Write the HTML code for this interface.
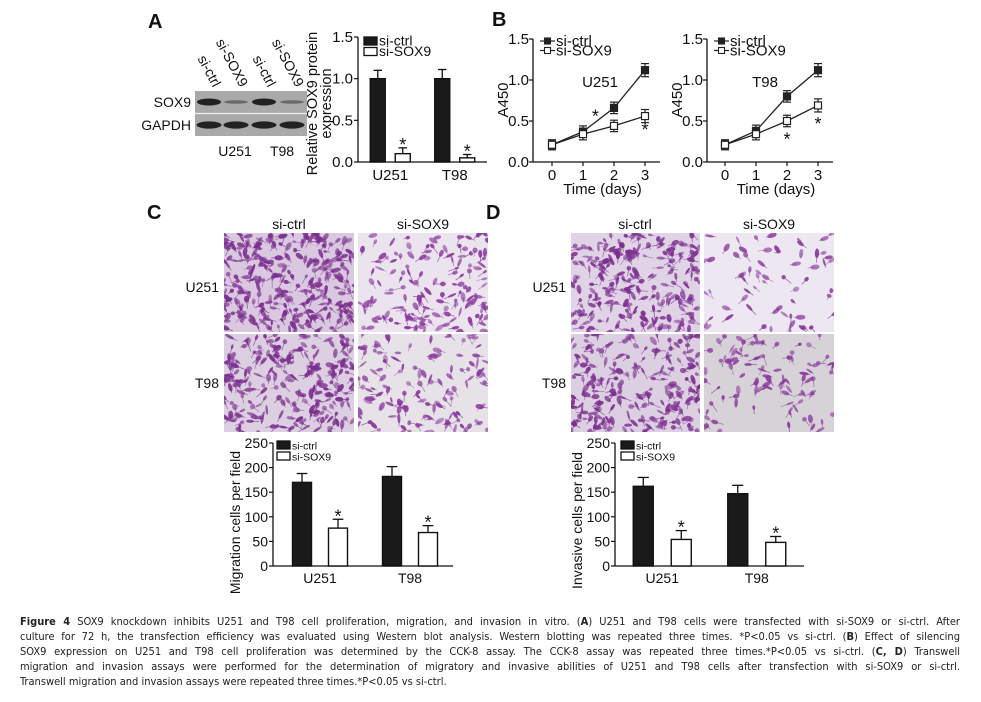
<!DOCTYPE html>
<html><head><meta charset="utf-8">
<style>
html,body{margin:0;padding:0;background:#fff;}
#wrap{position:relative;width:981px;height:702px;overflow:hidden;font-family:"Liberation Sans",sans-serif;}
svg text{font-family:"Liberation Sans",sans-serif;}
#caption{position:absolute;left:20px;top:614px;width:940px;font-family:"DejaVu Sans Condensed","Liberation Sans Narrow","Liberation Sans",sans-serif;font-size:11px;line-height:15px;color:#222;}
#caption div{text-align:justify;text-align-last:justify;white-space:nowrap;overflow:visible;}
#caption div.last{text-align-last:left;}
</style></head><body>
<div id="wrap">
<svg id="fig" width="981" height="702" xmlns="http://www.w3.org/2000/svg"></svg>
<div id="caption">
<div><b>Figure 4</b> SOX9 knockdown inhibits U251 and T98 cell proliferation, migration, and invasion in vitro. (<b>A</b>) U251 and T98 cells were transfected with si-SOX9 or si-ctrl. After</div>
<div>culture for 72 h, the transfection efficiency was evaluated using Western blot analysis. Western blotting was repeated three times. *P&lt;0.05 vs si-ctrl. (<b>B</b>) Effect of silencing</div>
<div>SOX9 expression on U251 and T98 cell proliferation was determined by the CCK-8 assay. The CCK-8 assay was repeated three times.*P&lt;0.05 vs si-ctrl. (<b>C, D</b>) Transwell</div>
<div>migration and invasion assays were performed for the determination of migratory and invasive abilities of U251 and T98 cells after transfection with si-SOX9 or si-ctrl.</div>
<div class="last">Transwell migration and invasion assays were repeated three times.*P&lt;0.05 vs si-ctrl.</div>
</div>
</div>
<script>
// ---- data ----
const barCategories = ["U251", "T98"];
const seriesNames = ["si-ctrl", "si-SOX9"];
const aCtrl = [1.0, 1.0];
const aCtrlErr = [0.1, 0.11];
const aSox = [0.1, 0.05];
const aSoxErr = [0.07, 0.04];
const aTicks = ["0.0", "0.5", "1.0", "1.5"];
const days = [0, 1, 2, 3];
const bU251Ctrl = [0.21, 0.37, 0.66, 1.12];
const bU251Sox = [0.21, 0.34, 0.44, 0.56];
const bT98Ctrl = [0.21, 0.38, 0.80, 1.12];
const bT98Sox = [0.21, 0.34, 0.50, 0.69];
const bErr = [0.06, 0.07, 0.07, 0.08];
const bTicks = ["0.0", "0.5", "1.0", "1.5"];
const cCtrl = [170, 182];
const cCtrlErr = [18, 20];
const cSox = [77, 68];
const cSoxErr = [18, 14];
const dCtrl = [162, 147];
const dCtrlErr = [18, 17];
const dSox = [54, 48];
const dSoxErr = [18, 12];
const cdTicks = ["0", "50", "100", "150", "200", "250"];

const NS = "http://www.w3.org/2000/svg";
const svg = document.getElementById("fig");
function mk(tag, attrs, parent) {
  const e = document.createElementNS(NS, tag);
  for (const k in attrs) e.setAttribute(k, attrs[k]);
  (parent || svg).appendChild(e);
  return e;
}
function txt(str, x, y, size, anchor, parent, extra) {
  const t = mk("text", Object.assign({x: x, y: y, "font-size": size, "text-anchor": anchor || "start", fill: "#111"}, extra || {}), parent);
  t.textContent = str;
  return t;
}

// panel letters
[["A",148,28],["B",492,26],["C",147,219],["D",486,219]].forEach(p => {
  const t = txt(p[0], p[1], p[2], 20, "start", svg, {"font-weight": "bold"});
  
  
});

// ---- Western blot ----
(function () {
  const g = mk("g", {});
  
  
  mk("rect", {x: 195, y: 91, width: 112, height: 45, fill: "#a9a9a9"}, g);
  mk("line", {x1: 195, y1: 113.5, x2: 307, y2: 113.5, stroke: "#eee", "stroke-width": 1.2}, g);
  const lanes = [209, 236, 264, 292];
  const sox = [1, 0.25, 1, 0.15];
  lanes.forEach((x, i) => {
    const b = mk("ellipse", {cx: x, cy: 102, rx: 12, ry: 3.5 * Math.max(sox[i], 0.5), fill: "#1a1a1a", opacity: sox[i] < 0.5 ? 0.45 : 0.95}, g);
    
    
    const c = mk("ellipse", {cx: x, cy: 125, rx: 12.5, ry: 3.6, fill: "#1a1a1a", opacity: 0.95}, g);
    
    
  });
  const labs = ["si-ctrl", "si-SOX9", "si-ctrl", "si-SOX9"];
  lanes.forEach((x, i) => {
    const t = txt(labs[i], x + 4, 88, 14, "end", g, {transform: "rotate(62 " + (x + 4) + " 88)"});
    
    
  });
  txt("SOX9", 191, 107, 14, "end", g);
  txt("GAPDH", 191, 130, 14, "end", g);
  txt("U251", 235, 156, 14, "middle", g);
  txt("T98", 282, 156, 14, "middle", g);
})();

// ---- generic bar chart ----
function barChart(o) {
  const g = mk("g", {});
  
  
  const ys = v => o.y0 - (v / o.max) * (o.y0 - o.y1);
  const band = (o.x1 - o.x0) / barCategories.length;
  const xc = i => o.x0 + (i + 0.5) * band + o.shift;
  mk("line", {x1: o.x0, y1: o.y1, x2: o.x0, y2: o.y0, stroke: "#111", "stroke-width": 1.3}, g);
  mk("line", {x1: o.x0, y1: o.y0, x2: o.x1, y2: o.y0, stroke: "#111", "stroke-width": 1.3}, g);
  o.ticks.forEach((lab, i) => {
    const v = parseFloat(lab);
    const y = ys(v);
    mk("line", {x1: o.x0 - 4, y1: y, x2: o.x0, y2: y, stroke: "#111", "stroke-width": 1.2}, g);
    const t = txt(lab, o.x0 - 5, y + 5, o.tickSize, "end", g);
    
    
  });
  const series = [[o.ctrl, o.ctrlErr, "#1a1a1a"], [o.sox, o.soxErr, "#fff"]];
  series.forEach((s, si) => {
    s[0].forEach((v, i) => {
      const cx = xc(i) + (si === 0 ? -o.off : o.off);
      const top = ys(v), et = ys(v + s[1][i]);
      mk("line", {x1: cx, y1: top, x2: cx, y2: et, stroke: "#111", "stroke-width": 1.3}, g);
      mk("line", {x1: cx - o.bw * 0.28, y1: et, x2: cx + o.bw * 0.28, y2: et, stroke: "#111", "stroke-width": 1.3}, g);
      const r = mk("rect", {x: cx - o.bw / 2, y: top, width: o.bw, height: o.y0 - top, fill: s[2], stroke: "#111", "stroke-width": 1.4}, g);
      
      
      if (si === 1) {
        const a = txt("*", cx, et + 3, o.starSize, "middle", g);
        
        
      }
    });
  });
  barCategories.forEach((c, i) => {
    const t = txt(c, xc(i), o.y0 + o.catDy, o.catSize, "middle", g);
    
    
  });
  seriesNames.forEach((n, i) => {
    const ly = o.legY + i * o.legDy;
    const r = mk("rect", {x: o.legX, y: ly, width: o.legW, height: o.legH, fill: i === 0 ? "#1a1a1a" : "#fff", stroke: "#111", "stroke-width": 1.3}, g);
    
    
    const t = txt(n, o.legX + o.legW + 2, ly + o.legH + 0.5, o.legSize, "start", g);
    
    
  });
  o.title.forEach((line, i) => {
    const x = o.titleX + i * o.titleDx, y = (o.y0 + o.y1) / 2 + o.titleDy;
    const t = txt(line, x, y, o.titleSize, "middle", g, {transform: "rotate(-90 " + x + " " + y + ")"});
    
    
  });
}

barChart({name: "chart-a-protein", x0: 358, x1: 487, y0: 162, y1: 37, max: 1.5, shift: 0, off: 12.5, bw: 15,
  ctrl: aCtrl, ctrlErr: aCtrlErr, sox: aSox, soxErr: aSoxErr, ticks: aTicks, tickSize: 15, starSize: 18,
  catDy: 18, catSize: 15, legX: 364, legY: 37, legDy: 10.5, legW: 13, legH: 8, legSize: 14,
  title: ["Relative SOX9 protein", "expression"], titleX: 317, titleDx: 14, titleDy: 4, titleSize: 14.5});

barChart({name: "chart-c-migration", x0: 273, x1: 453, y0: 566, y1: 443, max: 250, shift: 2, off: 18, bw: 19,
  ctrl: cCtrl, ctrlErr: cCtrlErr, sox: cSox, soxErr: cSoxErr, ticks: cdTicks, tickSize: 14, starSize: 18,
  catDy: 17, catSize: 14, legX: 277, legY: 441, legDy: 11, legW: 13, legH: 8, legSize: 10.5,
  title: ["Migration cells per field"], titleX: 240, titleDx: 0, titleDy: 18, titleSize: 14});

barChart({name: "chart-d-invasion", x0: 615, x1: 804, y0: 566, y1: 443, max: 250, shift: 0, off: 19, bw: 20,
  ctrl: dCtrl, ctrlErr: dCtrlErr, sox: dSox, soxErr: dSoxErr, ticks: cdTicks, tickSize: 14, starSize: 18,
  catDy: 17, catSize: 14, legX: 621, legY: 441, legDy: 11, legW: 13, legH: 8, legSize: 10.5,
  title: ["Invasive cells per field"], titleX: 582, titleDx: 0, titleDy: 16, titleSize: 14});

// ---- line charts ----
function lineChart(o) {
  const g = mk("g", {});
  
  
  const ys = v => o.y0 - (v / 1.5) * (o.y0 - o.y1);
  const xs = d => o.xd0 + d * o.step;
  mk("line", {x1: o.x0, y1: o.y1, x2: o.x0, y2: o.y0, stroke: "#111", "stroke-width": 1.3}, g);
  mk("line", {x1: o.x0, y1: o.y0, x2: o.x1, y2: o.y0, stroke: "#111", "stroke-width": 1.3}, g);
  bTicks.forEach(lab => {
    const y = ys(parseFloat(lab));
    mk("line", {x1: o.x0 - 4, y1: y, x2: o.x0, y2: y, stroke: "#111", "stroke-width": 1.2}, g);
    const t = txt(lab, o.x0 - 4, y + 5, 15, "end", g);
    
    
  });
  days.forEach(d => {
    mk("line", {x1: xs(d), y1: o.y0, x2: xs(d), y2: o.y0 + 4, stroke: "#111", "stroke-width": 1.2}, g);
    const t = txt(String(d), xs(d), o.y0 + 18, 15, "middle", g);
    
    
  });
  const tt = txt("Time (days)", (o.x0 + o.x1) / 2 + 6, 194, 15, "middle", g);
  
  
  const yx = o.x0 - 25, yy = 100;
  const yt = txt("A450", yx, yy, 15, "middle", g, {transform: "rotate(-90 " + yx + " " + yy + ")"});
  
  
  const lab = txt(o.label, o.labX, 87, 15, "middle", g);
  
  
  [[o.ctrl, "#222"], [o.sox, "#fff"]].forEach((s, si) => {
    const pts = s[0].map((v, i) => xs(days[i]) + "," + ys(v)).join(" ");
    const pl = mk("polyline", {points: pts, fill: "none", stroke: "#222", "stroke-width": 1.3}, g);
    
    
    s[0].forEach((v, i) => {
      const x = xs(days[i]), y = ys(v), e = bErr[i];
      mk("line", {x1: x, y1: ys(v - e), x2: x, y2: ys(v + e), stroke: "#222", "stroke-width": 1.2}, g);
      mk("line", {x1: x - 4, y1: ys(v + e), x2: x + 4, y2: ys(v + e), stroke: "#222", "stroke-width": 1.2}, g);
      mk("line", {x1: x - 4, y1: ys(v - e), x2: x + 4, y2: ys(v - e), stroke: "#222", "stroke-width": 1.2}, g);
      const m = mk("rect", {x: x - 3.5, y: y - 3.5, width: 7, height: 7, fill: s[1], stroke: "#222", "stroke-width": 1.2}, g);
      
      
    });
  });
  o.stars.forEach(st => {
    const a = txt("*", xs(st[0]) + st[2], ys(st[1]), 18, "middle", g);
    
    
  });
  seriesNames.forEach((n, i) => {
    const ly = 41 + i * 9.5;
    mk("line", {x1: o.x0 + 7, y1: ly, x2: o.x0 + 22, y2: ly, stroke: "#222", "stroke-width": 1.2}, g);
    mk("rect", {x: o.x0 + 11.5, y: ly - 3, width: 6, height: 6, fill: i ? "#fff" : "#222", stroke: "#222", "stroke-width": 1.1}, g);
    const t = txt(n, o.x0 + 23, ly + 5, 15, "start", g);
    
    
  });
}
lineChart({name: "chart-b-u251", x0: 533, x1: 660, y0: 162, y1: 39, xd0: 552, step: 31, ctrl: bU251Ctrl, sox: bU251Sox,
  label: "U251", labX: 600, stars: [[1.4, 0.48, 0], [3, 0.32, 0]]});
lineChart({name: "chart-b-t98", x0: 707, x1: 833, y0: 162, y1: 39, xd0: 725, step: 31, ctrl: bT98Ctrl, sox: bT98Sox,
  label: "T98", labX: 765, stars: [[2, 0.2, 0], [3, 0.39, 0]]});

// ---- micrographs ----
let seed = 12345;
function rnd() { seed = (seed * 1103515245 + 12345) % 2147483648; return seed / 2147483648; }
function micro(name, x, y, w, h, n, bg, col) {
  const g = mk("g", {});
  
  
  const cid = "clip-" + name;
  const cp = mk("clipPath", {id: cid}, g);
  mk("rect", {x: x, y: y, width: w, height: h}, cp);
  const inner = mk("g", {"clip-path": "url(#" + cid + ")"}, g);
  mk("rect", {x: x, y: y, width: w, height: h, fill: bg}, inner);
  for (let i = 0; i < n; i++) {
    const cx = x + rnd() * w, cy = y + rnd() * h, a = rnd() * 180;
    const rx = 1.8 + rnd() * 3.2, ry = 1.1 + rnd() * 1.5;
    const op = 0.5 + rnd() * 0.45;
    mk("ellipse", {cx: cx, cy: cy, rx: rx, ry: ry, fill: col, opacity: op, transform: "rotate(" + a + " " + cx + " " + cy + ")"}, inner);
    const L = 4 + rnd() * 6, rad = a * Math.PI / 180;
    mk("line", {x1: cx, y1: cy, x2: cx + Math.cos(rad) * L, y2: cy + Math.sin(rad) * L, stroke: col, "stroke-width": 0.8, opacity: op * 0.8}, inner);
  }
}
micro("micrograph-c-u251-ctrl", 224, 233, 130, 99, 300, "#d9c8df", "#7b2f8e");
micro("micrograph-c-u251-sox9", 358, 233, 130, 99, 150, "#ebe4ef", "#8a3a9c");
micro("micrograph-c-t98-ctrl", 224, 334, 130, 98, 240, "#dccfe1", "#7b2f8e");
micro("micrograph-c-t98-sox9", 358, 334, 130, 98, 130, "#e6e2e8", "#8a3a9c");
micro("micrograph-d-u251-ctrl", 571, 233, 129, 99, 240, "#e0d3e6", "#7b2f8e");
micro("micrograph-d-u251-sox9", 704, 233, 130, 99, 65, "#ece7f0", "#8a3a9c");
micro("micrograph-d-t98-ctrl", 571, 334, 129, 98, 220, "#dccfe1", "#7b2f8e");
micro("micrograph-d-t98-sox9", 704, 334, 130, 98, 100, "#d7d2d8", "#8a3a9c");

[["si-ctrl", 289, 229], ["si-SOX9", 423, 229], ["si-ctrl", 635, 229], ["si-SOX9", 769, 229]].forEach(h => {
  const t = txt(h[0], h[1], h[2], 14, "middle");
  
  
});
[["U251", 219, 292], ["T98", 219, 388], ["U251", 566, 292], ["T98", 566, 388]].forEach(h => {
  const t = txt(h[0], h[1], h[2], 14, "end");
  
  
});
</script>
</body></html>
